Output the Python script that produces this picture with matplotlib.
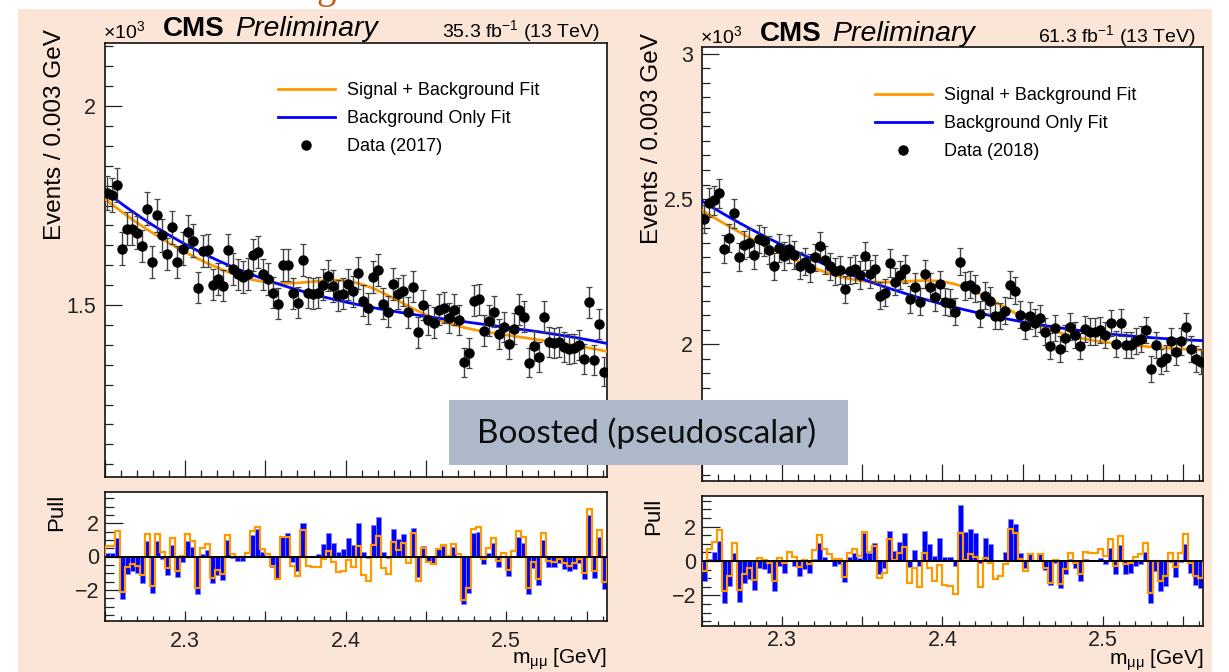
import numpy as np
import matplotlib
matplotlib.use("Agg")
import matplotlib.pyplot as plt
from matplotlib.patches import Rectangle
from matplotlib.lines import Line2D
from matplotlib.ticker import MultipleLocator, FuncFormatter

W, H = 1229, 672
plt.rcParams['font.family'] = ['Liberation Sans', 'DejaVu Sans']
plt.rcParams['mathtext.fontset'] = 'custom'
plt.rcParams['mathtext.rm'] = 'Liberation Sans'
plt.rcParams['mathtext.it'] = 'Liberation Sans:italic'
plt.rcParams['mathtext.sf'] = 'Liberation Sans'

# ---------------- data ----------------
X_LO, X_HI, NBINS = 2.25, 2.5625, 100

# events per bin (x 10^3)
data_2017 = [1.782, 1.776, 1.802, 1.642, 1.692, 1.692, 1.682, 1.648, 1.742, 1.608,
             1.726, 1.675, 1.628, 1.695, 1.608, 1.642, 1.684, 1.662, 1.544, 1.635,
             1.637, 1.551, 1.565, 1.549, 1.638, 1.590, 1.577, 1.571, 1.578, 1.625,
             1.634, 1.577, 1.565, 1.531, 1.503, 1.601, 1.601, 1.529, 1.506, 1.614,
             1.531, 1.528, 1.531, 1.551, 1.574, 1.548, 1.524, 1.528, 1.552, 1.534,
             1.581, 1.511, 1.492, 1.571, 1.588, 1.503, 1.483, 1.553, 1.528, 1.536,
             1.482, 1.546, 1.431, 1.500, 1.462, 1.456, 1.488, 1.493, 1.467, 1.488,
             1.462, 1.356, 1.380, 1.511, 1.514, 1.436, 1.461, 1.483, 1.427, 1.444,
             1.402, 1.441, 1.488, 1.471, 1.355, 1.397, 1.370, 1.471, 1.408, 1.404,
             1.408, 1.395, 1.389, 1.391, 1.400, 1.364, 1.507, 1.362, 1.452, 1.333]

data_2018 = [2.431, 2.488, 2.495, 2.520, 2.329, 2.365, 2.451, 2.302, 2.342, 2.348,
             2.308, 2.362, 2.354, 2.325, 2.268, 2.331, 2.305, 2.329, 2.308, 2.271,
             2.285, 2.262, 2.299, 2.337, 2.291, 2.268, 2.251, 2.256, 2.190, 2.254,
             2.259, 2.239, 2.305, 2.243, 2.260, 2.167, 2.178, 2.279, 2.216, 2.239,
             2.259, 2.155, 2.199, 2.146, 2.243, 2.199, 2.162, 2.207, 2.147, 2.144,
             2.113, 2.285, 2.201, 2.205, 2.191, 2.104, 2.167, 2.150, 2.098, 2.098,
             2.116, 2.205, 2.185, 2.102, 2.064, 2.099, 2.075, 2.090, 2.044, 1.996,
             2.056, 1.985, 2.021, 2.061, 2.033, 1.995, 2.052, 2.044, 2.044, 2.050,
             2.033, 2.073, 2.002, 2.075, 1.998, 1.998, 2.013, 2.018, 2.050, 1.915,
             1.998, 1.941, 1.952, 2.010, 1.975, 2.010, 2.061, 1.983, 1.949, 1.941]

# pulls w.r.t. background-only fit (blue) and signal+background fit (orange)
pull_b_2017 = [0.24, 0.24, 1.14, -2.56, -1.06, -0.84, -0.96, -1.56, 0.96, -2.16,
               0.96, -0.14, -1.10, 0.70, -1.24, -0.30, 0.96, 0.56, -2.24, 0.16,
               0.40, -1.60, -1.10, -1.40, 1.00, -0.10, -0.26, -0.26, 0.06, 1.30,
               1.64, 0.30, 0.06, -0.64, -1.34, 1.24, 1.44, -0.30, -0.84, 2.00,
               0.00, 0.00, 0.16, 0.76, 1.40, 0.80, 0.30, 0.44, 1.10, 0.70,
               2.00, 0.30, -0.10, 1.90, 2.36, 0.30, -0.10, 1.66, 1.06, 1.36,
               0.05, 1.70, -1.24, 0.64, -0.30, -0.40, 0.44, 0.64, 0.00, 0.60,
               0.00, -2.84, -2.16, 1.40, 1.50, -0.44, 0.20, 0.84, -0.64, -0.04,
               -1.14, 0.04, 1.16, 0.84, -2.26, -0.70, -1.70, 1.00, -0.64, -0.64,
               -0.40, -0.76, -0.84, -0.76, -0.40, -1.36, 2.50, -1.30, 1.20, -1.96]
pull_sb_2017 = [0.66, 0.66, 1.56, -2.10, -0.64, -0.44, -0.56, -1.10, 1.36, -1.76,
                1.36, 0.26, -0.70, 1.10, -0.86, 0.04, 1.36, 0.94, -1.90, 0.50,
                0.76, -1.26, -0.80, -1.06, 1.30, 0.16, -0.04, -0.04, 0.24, 1.54,
                1.80, 0.44, 0.16, -0.56, -1.34, 1.20, 1.20, -0.56, -1.16, 1.60,
                -0.56, -0.64, -0.64, -0.14, 0.36, -0.30, -0.90, -0.84, -0.20, -0.64,
                0.64, -1.10, -1.46, 0.70, 1.24, -0.70, -1.04, 0.90, 0.40, 0.80,
                -0.40, 1.40, -1.44, 0.50, -0.34, -0.44, 0.46, 0.70, 0.04, 0.76,
                0.16, -2.60, -1.90, 1.64, 1.76, -0.16, 0.50, 1.14, -0.26, 0.20,
                -0.80, 0.34, 1.54, 1.20, -1.90, -0.35, -1.34, 1.40, -0.26, -0.30,
                -0.14, -0.40, -0.56, -0.40, -0.14, -0.96, 2.84, -0.84, 1.60, -1.50]

pull_b_2018 = [-1.16, 0.10, 0.52, 1.16, -2.42, -1.45, 0.48, -2.36, -1.30, -1.06,
               -1.68, -0.43, -0.48, -0.72, -1.74, -0.29, -0.68, 0.00, -0.29, -0.87,
               -0.48, -0.68, 0.10, 1.04, 0.25, 0.00, -0.29, -0.15, -1.22, 0.23,
               0.48, 0.15, 1.64, 0.48, 1.03, -0.77, -0.43, 1.74, 0.58, 1.12,
               1.64, -0.35, 0.64, -0.29, 1.74, 1.00, 0.29, 1.35, 0.23, 0.23,
               -0.29, 3.25, 1.70, 1.88, 1.64, -0.10, 1.35, 0.97, 0.00, 0.00,
               0.54, 2.42, 2.13, 0.48, -0.39, 0.48, 0.00, 0.43, -0.54, -1.39,
               -0.10, -1.55, -0.74, 0.14, -0.39, -1.16, 0.10, 0.00, 0.00, 0.15,
               -0.19, 0.77, -0.74, 0.91, -0.77, -0.68, -0.29, -0.15, 0.52, -2.42,
               -0.58, -1.74, -1.45, -0.06, -0.93, -0.06, 0.97, -0.68, -1.39, -1.55]
pull_sb_2018 = [-0.58, 0.68, 1.10, 1.78, -1.74, -0.87, 1.06, -1.70, -0.77, -0.43,
                -1.10, 0.15, 0.08, -0.14, -1.16, 0.19, -0.10, 0.52, 0.23, -0.35,
                0.04, -0.19, 0.62, 1.50, 0.72, 0.39, 0.10, 0.14, -0.91, 0.48,
                0.68, 0.29, 1.70, 0.54, 0.87, -1.00, -0.68, 1.30, 0.06, 0.48,
                0.83, -1.26, -0.43, -1.50, 0.48, -0.43, -1.16, -0.23, -1.41, -1.45,
                -1.93, 1.64, 0.05, 0.39, 0.23, -1.50, 0.15, -0.10, -1.06, -0.87,
                -0.15, 1.84, 1.64, 0.10, -0.58, 0.39, 0.00, 0.43, -0.39, -1.26,
                0.06, -1.32, -0.48, 0.48, -0.10, -0.77, 0.52, 0.48, 0.48, 0.68,
                0.29, 1.26, -0.29, 1.45, -0.15, -0.10, 0.23, 0.39, 1.06, -1.84,
                0.00, -1.16, -0.87, 0.48, -0.35, 0.48, 1.55, -0.10, -0.87, -0.97]

# background-only fit curve, values read at several masses (x 10^3)
bkg_x_2017 = [2.25, 2.2707, 2.2886, 2.3093, 2.328, 2.3508, 2.367, 2.3923, 2.409, 2.4443, 2.486, 2.527, 2.5625]
bkg_y_2017 = [1.776, 1.739, 1.688, 1.630, 1.590, 1.559, 1.540, 1.517, 1.503, 1.476, 1.452, 1.427, 1.404]
bkg_x_2018 = [2.25, 2.2697, 2.2905, 2.33, 2.357, 2.4047, 2.467, 2.5086, 2.5625]
bkg_y_2018 = [2.495, 2.430, 2.365, 2.268, 2.213, 2.132, 2.061, 2.033, 2.013]
# signal+background fit: background shift + gaussian peak (offset, amplitude, mean, sigma)
sb_2017 = [-0.020, 0.074, 2.405, 0.030]
sb_2018 = [-0.032, 0.112, 2.407, 0.033]

lumi_labels = ["35.3 fb$^{-1}$ (13 TeV)", "61.3 fb$^{-1}$ (13 TeV)"]
data_labels = ["Data (2017)", "Data (2018)"]
ylims_main = [(1.068, 2.159), (1.530, 3.022)]
ylims_pull = [(-3.87, 3.87), (-3.77, 3.77)]

ORANGE = '#ff9900'
BLUE = '#0000ff'

# ---------------- figure ----------------
fig = plt.figure(figsize=(W / 100, H / 100), dpi=100)
fig.patch.set_facecolor('white')


def fx(x):
    return x / W


def fy(y):
    return 1 - y / H


def frame(x0, y0, x1, y1):
    return [x0 / W, 1 - y1 / H, (x1 - x0) / W, (y1 - y0) / H]


fig.add_artist(Rectangle((fx(18), 0), fx(1212) - fx(18), fy(9), transform=fig.transFigure,
                         facecolor='#fbe5d6', edgecolor='none', zorder=0))
# descender of the slide title that is cut off at the top edge
fig.text(fx(316), fy(-2), 'g', fontsize=28, color='#c55a11', family='Liberation Serif',
         ha='left', va='baseline')

edges = np.linspace(X_LO, X_HI, NBINS + 1)
centers = 0.5 * (edges[:-1] + edges[1:])
binw = edges[1] - edges[0]
xs = np.linspace(X_LO, X_HI, 600)

panels = [
    dict(main=(104.7, 42.7, 606.7, 477), pull=(104.7, 492, 606.7, 621),
         data=data_2017, pb=pull_b_2017, psb=pull_sb_2017,
         kx=bkg_x_2017, ky=bkg_y_2017, sb=sb_2017, leg=(278, 82), mlab=664, xpad=7),
    dict(main=(701.7, 47.3, 1203.3, 481), pull=(701.7, 496, 1203.3, 626),
         data=data_2018, pb=pull_b_2018, psb=pull_sb_2018,
         kx=bkg_x_2018, ky=bkg_y_2018, sb=sb_2018, leg=(875, 87), mlab=665, xpad=3),
]

TICKFS = 15.5


def style_axes(ax):
    for s in ax.spines.values():
        s.set_linewidth(1.2)
        s.set_color('#111111')
    ax.tick_params(which='both', direction='in', top=False, right=False, colors='#222222',
                   labelsize=TICKFS, width=0.9)


def xfmt(v, pos):
    if abs(v * 10 - round(v * 10)) < 1e-6:
        return "%.1f" % v
    return ""


for i, p in enumerate(panels):
    ax = fig.add_axes(frame(*p['main']))
    axp = fig.add_axes(frame(*p['pull']))
    style_axes(ax)
    style_axes(axp)

    d = np.array(p['data'])
    err = np.sqrt(d * 1000.0) / 1000.0
    poly = np.polynomial.Polynomial.fit(p['kx'], p['ky'], 3)
    bkg = poly(xs)
    off, amp, mu, sig = p['sb']
    sbc = bkg + off + amp * np.exp(-0.5 * ((xs - mu) / sig) ** 2)

    ax.plot(xs, sbc, color=ORANGE, lw=2.0, zorder=3, label='Signal + Background Fit')
    ax.plot(xs, bkg, color=BLUE, lw=2.0, zorder=3, label='Background Only Fit')
    ax.errorbar(centers, d, yerr=err, fmt='o', color='black', ms=6.5, ecolor='#444444',
                elinewidth=1.0, capsize=2.0, capthick=0.9, zorder=4)

    ax.set_xlim(X_LO, X_HI)
    ax.set_ylim(*ylims_main[i])
    ax.xaxis.set_major_locator(MultipleLocator(0.05))
    ax.xaxis.set_minor_locator(MultipleLocator(0.01))
    ax.tick_params(axis='x', which='major', length=12, labelbottom=False)
    ax.tick_params(axis='x', which='minor', length=5)
    ax.yaxis.set_major_locator(MultipleLocator(0.5))
    ax.yaxis.set_minor_locator(MultipleLocator(0.05))
    ax.yaxis.set_major_formatter(FuncFormatter(lambda v, pos: ("%g" % round(v, 2))))
    ax.tick_params(axis='y', which='major', length=12, pad=6)
    ax.tick_params(axis='y', which='minor', length=6)

    handles = [Line2D([], [], color=ORANGE, lw=2.0),
               Line2D([], [], color=BLUE, lw=2.0),
               Line2D([], [], color='black', marker='o', ls='none', ms=6.5)]
    labels = ['Signal + Background Fit', 'Background Only Fit', data_labels[i]]
    lx, ly = p['leg']
    x0, y0, x1, y1 = p['main']
    ax.legend(handles, labels, loc='upper left',
              bbox_to_anchor=((lx - x0) / (x1 - x0), 1 - (ly - y0) / (y1 - y0)),
              frameon=False, fontsize=13, handlelength=3.15, handletextpad=0.65,
              labelspacing=0.62, borderpad=0, borderaxespad=0)

    # pull panel
    axp.bar(centers, p['pb'], width=binw, color=BLUE, edgecolor='#7f7fff', linewidth=0.6, zorder=2)
    axp.stairs(p['psb'], edges, color=ORANGE, lw=1.6, baseline=0, zorder=3)
    axp.axhline(0, color='black', lw=1.4, zorder=4)
    axp.set_xlim(X_LO, X_HI)
    axp.set_ylim(*ylims_pull[i])
    axp.xaxis.set_major_locator(MultipleLocator(0.05))
    axp.xaxis.set_minor_locator(MultipleLocator(0.01))
    axp.xaxis.set_major_formatter(FuncFormatter(xfmt))
    axp.tick_params(axis='x', which='major', length=7, pad=p['xpad'])
    axp.tick_params(axis='x', which='minor', length=3.5)
    axp.yaxis.set_major_locator(MultipleLocator(2))
    axp.yaxis.set_minor_locator(MultipleLocator(0.5))
    axp.tick_params(axis='y', which='major', length=13, pad=4)
    axp.tick_params(axis='y', which='minor', length=6.5)
    axp.set_yticks([-2, 0, 2])
    axp.set_yticklabels(['\u22122', '0', '2'])

    # texts
    dy = y0 - 42.7
    fig.text(fx(x0 - 2), fy(38 + dy), r'$\times$10$^{3}$', fontsize=14, ha='left', va='baseline')
    fig.text(fx(x0 + 58), fy(36 + dy), 'CMS', fontsize=20, fontweight='bold', ha='left', va='baseline')
    fig.text(fx(x0 + 130), fy(36 + dy), 'Preliminary', fontsize=20.5, style='italic', ha='left', va='baseline')
    fig.text(fx(x1 - 7), fy(37 + dy), lumi_labels[i], fontsize=14, ha='right', va='baseline')
    fig.text(fx(x0 - 50), fy(y0 - 14), 'Events / 0.003 GeV', rotation=90, fontsize=17.5,
             ha='center', va='top')
    fig.text(fx(x0 - 48), fy(p['pull'][1] + 2), 'Pull', rotation=90, fontsize=16, ha='center', va='top')
    fig.text(fx(x1), fy(p['mlab']), r'm$_{\mathrm{μμ}}$ [GeV]', fontsize=15, ha='right', va='baseline')

# label box
fig.add_artist(Rectangle((fx(449), fy(465)), fx(848) - fx(449), fy(400) - fy(465),
                         transform=fig.transFigure, facecolor='#adb9ca', edgecolor='none', zorder=10))
fig.text(fx(647), fy(433), 'Boosted (pseudoscalar)', fontsize=24, family='Lato',
         ha='center', va='center', zorder=11, color='#0d0d0d')

fig.savefig('out.png', dpi=100, facecolor=fig.get_facecolor())
